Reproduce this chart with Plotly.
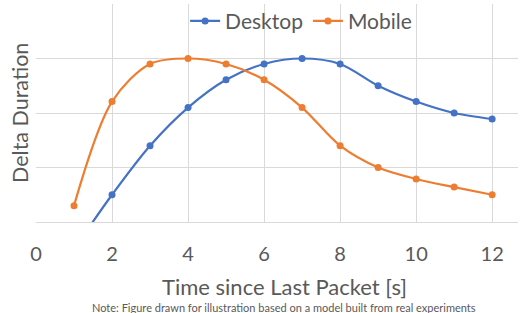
import plotly.graph_objects as go

x_vals = [1, 2, 3, 4, 5, 6, 7, 8, 9, 10, 11, 12]
desktop = [-0.5, 0.5, 1.4, 2.1, 2.61, 2.9, 3.0, 2.9, 2.5, 2.21, 2.0, 1.89]
mobile = [0.3, 2.21, 2.9, 3.0, 2.9, 2.61, 2.1, 1.4, 1.0, 0.79, 0.64, 0.5]
x_ticks = [0, 2, 4, 6, 8, 10, 12]

FONT = "Lato"
GREY = "#595959"

fig = go.Figure()
fig.add_trace(go.Scatter(x=x_vals, y=desktop, name="Desktop", mode="lines+markers",
                         line=dict(color="#4472C4", width=2.2, shape="spline", smoothing=0.9),
                         marker=dict(size=7, color="#4472C4"), cliponaxis=True))
fig.add_trace(go.Scatter(x=x_vals, y=mobile, name="Mobile", mode="lines+markers",
                         line=dict(color="#ED7D31", width=2.2, shape="spline", smoothing=0.9),
                         marker=dict(size=7, color="#ED7D31"), cliponaxis=True))

fig.update_layout(
    width=520, height=313,
    margin=dict(l=36, r=2, t=4, b=91, autoexpand=False),
    paper_bgcolor="white", plot_bgcolor="white",
    font=dict(family=FONT, color=GREY),
    showlegend=True,
    legend=dict(orientation="h", x=0.55, xanchor="center", y=1.015, yanchor="top",
                font=dict(size=21, color=GREY, family=FONT), bgcolor="rgba(0,0,0,0)",
                itemwidth=30, tracegroupgap=0),
    xaxis=dict(range=[0, 12.68], tickvals=x_ticks, showgrid=True, gridcolor="#d9d9d9",
               gridwidth=1, zeroline=False, showline=True, linecolor="#d9d9d9",
               tickfont=dict(size=20, color=GREY, family=FONT), ticks="", ticklen=0,
               ticklabelstandoff=14, automargin=False),
    yaxis=dict(range=[0, 4], tickvals=[0, 1, 2, 3, 4], showticklabels=False, showgrid=True,
               gridcolor="#d9d9d9", gridwidth=1, zeroline=False, showline=False,
               automargin=False),
)
fig.add_annotation(text="Time since Last Packet [s]", xref="paper", yref="paper",
                   x=0.515, y=0, xanchor="center", yanchor="middle", yshift=-64,
                   showarrow=False, font=dict(size=22, color=GREY, family=FONT))
fig.add_annotation(text="Delta Duration", xref="paper", yref="paper",
                   x=0, y=0.5, xanchor="center", yanchor="middle", xshift=-16,
                   textangle=-90, showarrow=False, font=dict(size=21.5, color=GREY, family=FONT))
fig.add_annotation(text="Note: Figure drawn for illustration based on a model built from real experiments",
                   xref="paper", yref="paper", x=0.515, y=0, xanchor="center", yanchor="middle",
                   yshift=-85, showarrow=False, font=dict(size=11, color=GREY, family=FONT))

fig.write_html("out.html", config={"displayModeBar": False},
               post_script="document.body.style.margin='0';")
